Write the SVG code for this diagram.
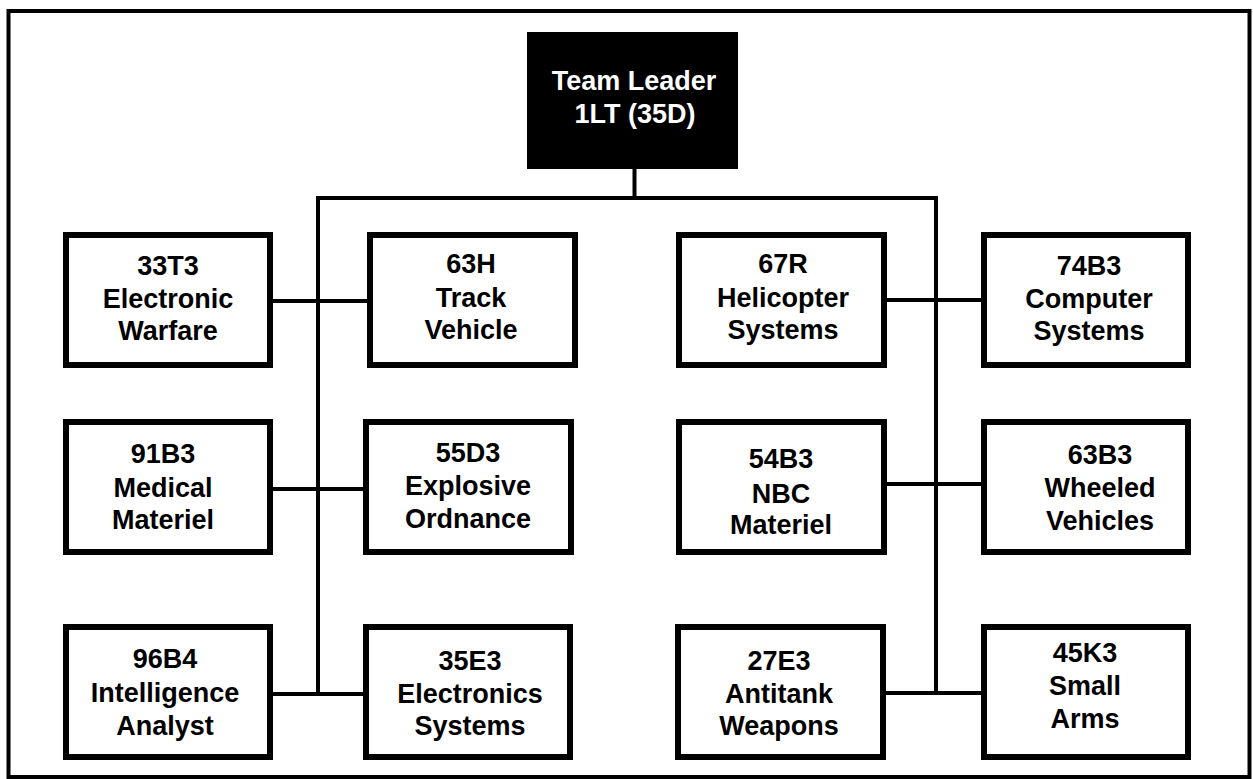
<svg xmlns="http://www.w3.org/2000/svg" width="1253" height="779" viewBox="0 0 1253 779">
<style>
.box{fill:#fff;stroke:#000;stroke-width:6}
.lead{fill:#000;stroke:none}
.ln{stroke:#000;stroke-width:4;fill:none;stroke-linecap:square}
text{font-family:"Liberation Sans",Arial,Helvetica,sans-serif;font-weight:bold;font-size:27px;text-anchor:middle;fill:#000}
.w{fill:#fff}
</style>
<rect x="0" y="0" width="1253" height="779" fill="#fff"/>
<rect x="8.5" y="11" width="1241" height="766" fill="none" stroke="#000" stroke-width="4"/>
<g id="connectors">
<line class="ln" x1="634.5" y1="169" x2="634.5" y2="198"/>
<line class="ln" x1="318" y1="198" x2="936" y2="198"/>
<line class="ln" x1="318" y1="198" x2="318" y2="694"/>
<line class="ln" x1="936" y1="198" x2="936" y2="693"/>
<line class="ln" x1="273" y1="301" x2="366" y2="301"/>
<line class="ln" x1="273" y1="489" x2="363" y2="489"/>
<line class="ln" x1="273" y1="694" x2="363" y2="694"/>
<line class="ln" x1="887" y1="300" x2="981" y2="300"/>
<line class="ln" x1="887" y1="484" x2="981" y2="484"/>
<line class="ln" x1="886" y1="693" x2="981" y2="693"/>
</g>
<g id="leader">
<rect class="lead" x="527" y="32" width="211" height="137"/>
<text class="w" x="634" y="90">Team Leader</text>
<text class="w" x="635" y="123">1LT (35D)</text>
</g>
<g id="n33T3">
<rect class="box" x="66" y="235" width="204" height="130"/>
<text x="168" y="275">33T3</text><text x="168" y="308">Electronic</text><text x="168" y="340">Warfare</text>
</g>
<g id="n63H">
<rect class="box" x="370" y="235" width="205" height="130"/>
<text x="471" y="273">63H</text><text x="471" y="307">Track</text><text x="471" y="339">Vehicle</text>
</g>
<g id="n67R">
<rect class="box" x="679" y="235" width="205" height="130"/>
<text x="783" y="273">67R</text><text x="783" y="307">Helicopter</text><text x="783" y="339">Systems</text>
</g>
<g id="n74B3">
<rect class="box" x="984" y="235" width="204" height="130"/>
<text x="1089" y="275">74B3</text><text x="1089" y="308">Computer</text><text x="1089" y="340">Systems</text>
</g>
<g id="n91B3">
<rect class="box" x="66" y="422" width="204" height="130"/>
<text x="163" y="463">91B3</text><text x="163" y="497">Medical</text><text x="163" y="529">Materiel</text>
</g>
<g id="n55D3">
<rect class="box" x="366" y="422" width="205" height="130"/>
<text x="468" y="462">55D3</text><text x="468" y="495">Explosive</text><text x="468" y="528">Ordnance</text>
</g>
<g id="n54B3">
<rect class="box" x="679" y="422" width="205" height="130"/>
<text x="781" y="468">54B3</text><text x="781" y="503">NBC</text><text x="781" y="534">Materiel</text>
</g>
<g id="n63B3">
<rect class="box" x="984" y="422" width="204" height="130"/>
<text x="1100" y="464">63B3</text><text x="1100" y="497">Wheeled</text><text x="1100" y="530">Vehicles</text>
</g>
<g id="n96B4">
<rect class="box" x="66" y="627" width="204" height="130"/>
<text x="165" y="668">96B4</text><text x="165" y="702">Intelligence</text><text x="165" y="735">Analyst</text>
</g>
<g id="n35E3">
<rect class="box" x="366" y="627" width="204" height="130"/>
<text x="470" y="670">35E3</text><text x="470" y="703">Electronics</text><text x="470" y="735">Systems</text>
</g>
<g id="n27E3">
<rect class="box" x="678" y="627" width="205" height="130"/>
<text x="779" y="670">27E3</text><text x="779" y="703">Antitank</text><text x="779" y="735">Weapons</text>
</g>
<g id="n45K3">
<rect class="box" x="984" y="627" width="204" height="130"/>
<text x="1085" y="662">45K3</text><text x="1085" y="695">Small</text><text x="1085" y="728">Arms</text>
</g>
</svg>
